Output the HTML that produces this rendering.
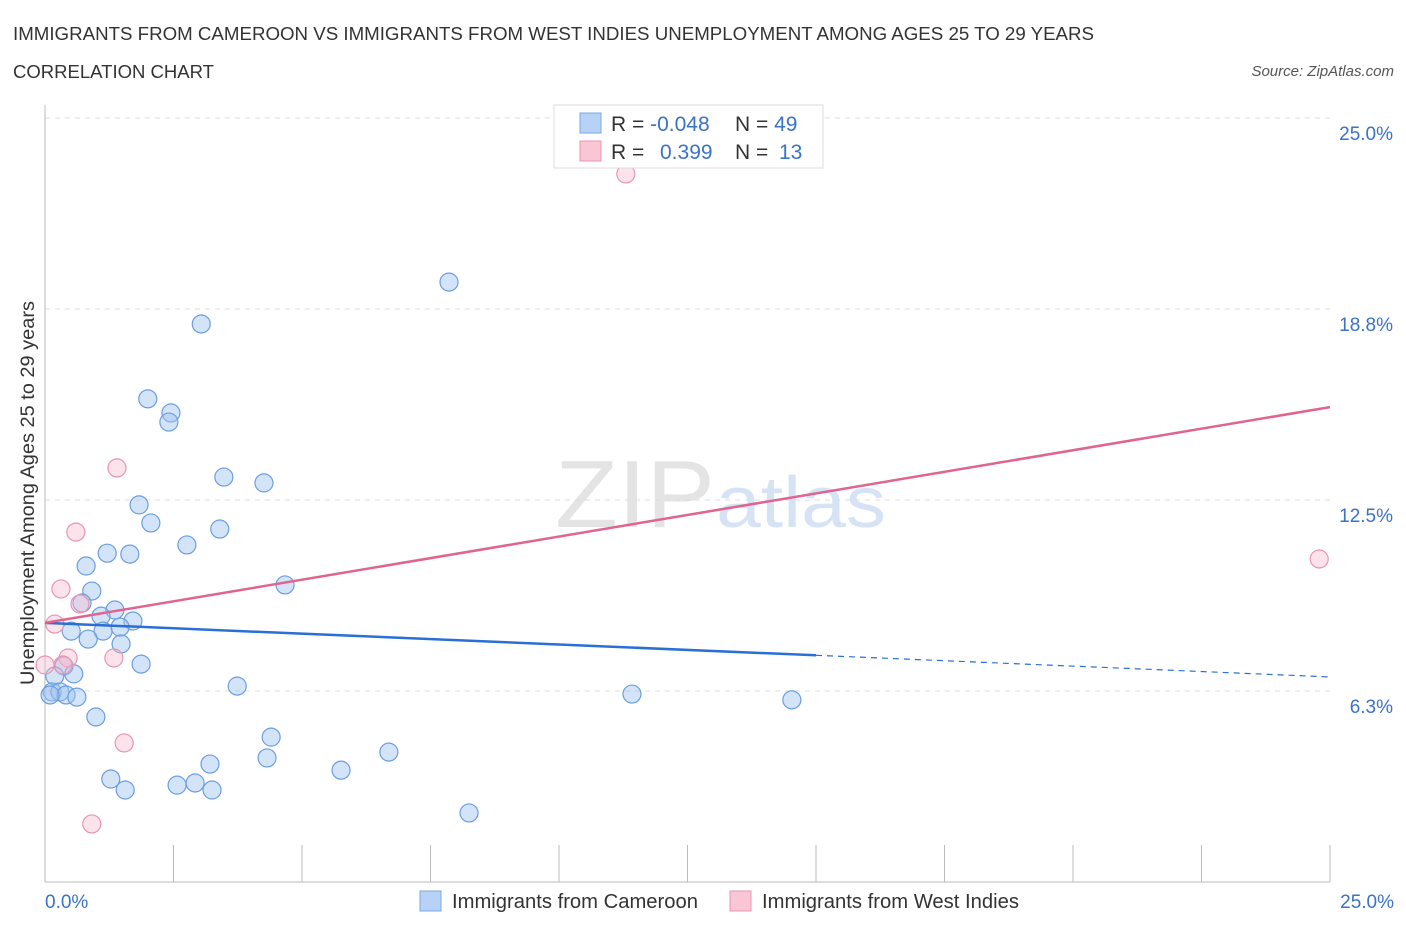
<!DOCTYPE html>
<html><head><meta charset="utf-8"><style>
body{margin:0;background:#fff;font-family:"Liberation Sans",sans-serif;}
svg text{font-family:"Liberation Sans",sans-serif;}
</style></head><body>
<svg id="chart" width="1406" height="930" xmlns="http://www.w3.org/2000/svg">
<text x="13" y="40" font-size="18" fill="#333" textLength="1081" lengthAdjust="spacingAndGlyphs">IMMIGRANTS FROM CAMEROON VS IMMIGRANTS FROM WEST INDIES UNEMPLOYMENT AMONG AGES 25 TO 29 YEARS</text>
<text x="13" y="78" font-size="18" fill="#333" textLength="201" lengthAdjust="spacingAndGlyphs">CORRELATION CHART</text>
<text x="1394" y="76" font-size="15" fill="#555" font-style="italic" text-anchor="end">Source: ZipAtlas.com</text>
<text x="555" y="527" font-size="96" fill="#e4e4e4" textLength="160" lengthAdjust="spacingAndGlyphs" font-family="Liberation Serif">ZIP</text>
<text x="716" y="527" font-size="72" fill="#d6e3f5" textLength="170" lengthAdjust="spacingAndGlyphs">atlas</text>
<g id="grid"></g>
<g id="axes"></g>
<g id="points"></g>
<g id="trends"></g>
<text x="34" y="493" font-size="19" fill="#333" text-anchor="middle" textLength="384" lengthAdjust="spacingAndGlyphs" transform="rotate(-90 34 493)">Unemployment Among Ages 25 to 29 years</text>
<g>
<rect x="554" y="105" width="269" height="63" fill="#fff" stroke="#ddd"/>
<rect x="580" y="113" width="21" height="20" fill="#b8d2f5" stroke="#7aa8e6"/>
<rect x="580" y="141" width="21" height="20" fill="#f9c6d5" stroke="#ec94b0"/>
<text x="611" y="131" font-size="21" fill="#333">R = <tspan fill="#3a72c8">-0.048</tspan></text>
<text x="735" y="131" font-size="21" fill="#333">N = <tspan fill="#3a72c8">49</tspan></text>
<text x="611" y="159" font-size="21" fill="#333">R = </text>
<text x="660" y="159" font-size="21" fill="#3a72c8">0.399</text>
<text x="735" y="159" font-size="21" fill="#333">N = </text>
<text x="779" y="159" font-size="21" fill="#3a72c8">13</text>
</g>
<g>
<rect x="420" y="891" width="21" height="20" fill="#b8d2f5" stroke="#7aa8e6"/>
<text x="452" y="908" font-size="20" fill="#333" textLength="246" lengthAdjust="spacingAndGlyphs">Immigrants from Cameroon</text>
<rect x="730" y="891" width="21" height="20" fill="#f9c6d5" stroke="#ec94b0"/>
<text x="762" y="908" font-size="20" fill="#333" textLength="257" lengthAdjust="spacingAndGlyphs">Immigrants from West Indies</text>
</g>
</svg>
<script>
const blueX=[7.86,3.04,2.00,2.45,2.41,3.48,4.26,1.83,2.06,3.40,2.76,1.21,1.65,0.80,4.67,0.91,0.72,1.36,1.09,1.71,1.46,0.51,1.13,0.84,1.48,1.87,0.37,0.56,0.19,0.14,0.29,0.41,0.62,3.74,11.42,14.53,0.99,4.40,6.69,4.32,3.21,5.76,1.28,2.57,2.92,1.56,3.25,8.25,0.10];
const blueY=[19.63,18.26,15.81,15.35,15.05,13.25,13.06,12.34,11.75,11.55,11.03,10.76,10.73,10.34,9.72,9.52,9.13,8.90,8.70,8.54,8.34,8.21,8.21,7.95,7.79,7.13,7.07,6.81,6.74,6.22,6.22,6.12,6.05,6.41,6.15,5.96,5.40,4.74,4.25,4.06,3.86,3.66,3.37,3.17,3.24,3.01,3.01,2.26,6.12];
const pinkX=[11.30,1.40,0.60,0.31,0.68,0.19,1.34,0.45,0.35,0.0,1.54,0.91,24.79];
const pinkY=[23.17,13.55,11.45,9.59,9.10,8.44,7.33,7.33,7.10,7.10,4.55,1.90,10.57];
const blueTrend=[8.48,6.71];
const pinkTrend=[8.48,15.54];
const yTicks=[6.25,12.5,18.75,25];
const yTickLabels=["6.3%","12.5%","18.8%","25.0%"];
const xTickLabels=["0.0%","25.0%"];
const NS="http://www.w3.org/2000/svg";
const X=v=>45+v/25*1285, Y=v=>882-v/25*764;
function mk(tag,attrs,parent){const e=document.createElementNS(NS,tag);for(const k in attrs)e.setAttribute(k,attrs[k]);parent.appendChild(e);return e;}
const grid=document.getElementById('grid'),axes=document.getElementById('axes'),pts=document.getElementById('points'),tr=document.getElementById('trends');
yTicks.forEach((t,i)=>{
 const l=mk('line',{x1:45,x2:1330,y1:Y(t),y2:Y(t),stroke:'#ddd','stroke-dasharray':'5,5'},grid);
 
 
 const tx=mk('text',{x:1393,y:Y(t)+22,'font-size':19,fill:'#3a72c8','text-anchor':'end'},axes);
 tx.textContent=yTickLabels[i];
 
 
});
const ax=mk('line',{x1:45,x2:45,y1:105,y2:882,stroke:'#bbb'},axes);


const bx=mk('line',{x1:45,x2:1330,y1:882,y2:882,stroke:'#bbb'},axes);


for(let i=0;i<=10;i++){
 const t=mk('line',{x1:X(i*2.5),x2:X(i*2.5),y1:845,y2:882,stroke:'#bbb'},axes);
 
 
}
[[0,'start',45],[1,'end',1394]].forEach(([i,a,x])=>{
 const t=mk('text',{x:x,y:908,'font-size':19,fill:'#3a72c8','text-anchor':a},axes);
 t.textContent=xTickLabels[i];
 
 
});
blueX.forEach((v,i)=>{
 const c=mk('circle',{cx:X(v),cy:Y(blueY[i]),r:9,fill:'rgba(160,196,240,0.45)',stroke:'#6a9ee0','stroke-width':1.2},pts);
 
 
});
pinkX.forEach((v,i)=>{
 const c=mk('circle',{cx:X(v),cy:Y(pinkY[i]),r:9,fill:'rgba(248,185,205,0.4)',stroke:'#e895ae','stroke-width':1.2},pts);
 
 
});
const bm=blueTrend[0]+(blueTrend[1]-blueTrend[0])*0.6;
const b1=mk('line',{x1:X(0),y1:Y(blueTrend[0]),x2:X(15),y2:Y(bm),stroke:'#2a6fd6','stroke-width':2.5},tr);


const b2=mk('line',{x1:X(15),y1:Y(bm),x2:X(25),y2:Y(blueTrend[1]),stroke:'#2a6fd6','stroke-width':1.2,'stroke-dasharray':'6,5'},tr);


const p1=mk('line',{x1:X(0),y1:Y(pinkTrend[0]),x2:X(25),y2:Y(pinkTrend[1]),stroke:'#e0648f','stroke-width':2.5},tr);


</script>
</body></html>
